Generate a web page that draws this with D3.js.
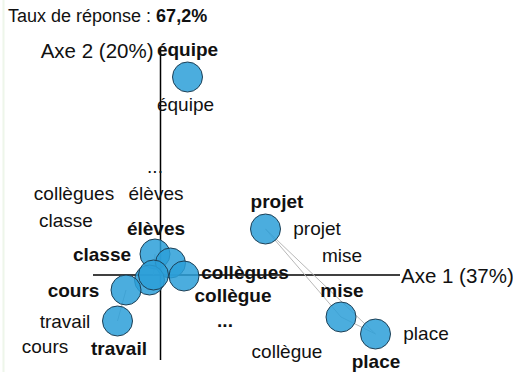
<!DOCTYPE html>
<html>
<head>
<meta charset="utf-8">
<script src="https://cdn.jsdelivr.net/npm/d3@7"></script>
<style>
  body { margin: 0; background: #fff; }
  svg { display: block; font-family: "Liberation Sans", Arial, sans-serif; }
</style>
</head>
<body>
<div id="chart"></div>
<script>
// mots (points actifs)
var words = ['équipe', 'projet', 'mise', 'place', 'élèves', 'collègue', 'collègues', 'classe', '...', 'cours', 'travail'];
var axis1 = [0.54, 2.10, 3.61, 4.30, -0.11, 0.20, 0.47, -0.22, -0.14, -0.69, -0.86];
var axis2 = [3.96, 0.92, -0.84, -1.18, 0.42, 0.24, -0.02, -0.10, 0.0, -0.30, -0.92];
// position des etiquettes en gras
var labelX = [0.54, 2.33, 3.63, 4.31, -0.09, 1.45, 1.69, -1.17, 1.29, -1.74, -0.83];
var labelY = [4.38, 1.34, -0.44, -1.86, 0.80, -0.54, -0.08, 0.28, -1.04, -0.44, -1.60];

// mots supplementaires (texte simple)
var suppWords = ['équipe', '...', 'collègues', 'élèves', 'classe', 'projet', 'mise', 'travail', 'cours', 'place', 'collègue'];
var suppX = [0.50, -0.11, -1.73, -0.09, -1.89, 3.13, 3.63, -1.91, -2.31, 5.31, 2.53];
var suppY = [3.28, 2.04, 1.50, 1.50, 0.96, 0.80, 0.26, -1.06, -1.56, -1.30, -1.66];

// liens entre mots (indices)
var links = [[1, 2], [2, 3], [1, 3], [9, 10], [4, 8]];

var rate = '67,2%';
var axisLabels = ['Axe 1 (37%)', 'Axe 2 (20%)'];

var W = 513, H = 374;

var svg = d3.select('#chart').append('svg')
    .attr('width', W)
    .attr('height', H);

// fine bordure a gauche
svg.append('line')
    .attr('x1', 3.5).attr('x2', 3.5)
    .attr('y1', 0).attr('y2', 372)
    .attr('stroke', '#eef6ea')
    .attr('stroke-width', 2);

var x = d3.scaleLinear().domain([-1.35, 4.79]).range([93, 400]);
var y = d3.scaleLinear().domain([4.54, -1.7]).range([48, 360]);

//------------- titre
var title = svg.append('text')
    .attr('x', 8)
    .attr('y', 22)
    .style('font-size', '18px')
    .attr('fill', '#111')
    .text('Taux de réponse : ');
title.append('tspan')
    .style('font-weight', 'bold')
    .text(rate);

//------------- axes
svg.append('line')
    .attr('x1', x(x.domain()[0])).attr('x2', x(x.domain()[1]))
    .attr('y1', y(0)).attr('y2', y(0))
    .attr('stroke', '#000')
    .attr('stroke-width', 1.5);

svg.append('line')
    .attr('x1', x(0)).attr('x2', x(0))
    .attr('y1', y(y.domain()[0])).attr('y2', y(y.domain()[1]))
    .attr('stroke', '#000')
    .attr('stroke-width', 1.5);

svg.append('text')
    .attr('x', x(x.domain()[1]) + 1)
    .attr('y', y(0) + 8)
    .style('font-size', '20.5px')
    .attr('fill', '#111')
    .text(axisLabels[0]);

svg.append('text')
    .attr('x', x(0) - 7)
    .attr('y', y(y.domain()[0]) + 10)
    .attr('text-anchor', 'end')
    .style('font-size', '20.5px')
    .attr('fill', '#111')
    .text(axisLabels[1]);

//------------- liens
svg.selectAll('.link')
    .data(links)
    .enter()
    .append('line')
    .attr('class', 'link')
    .attr('x1', d => x(axis1[d[0]]))
    .attr('y1', d => y(axis2[d[0]]))
    .attr('x2', d => x(axis1[d[1]]))
    .attr('y2', d => y(axis2[d[1]]))
    .attr('stroke', '#b8b8b8')
    .attr('stroke-width', 1);

//------------- etiquettes supplementaires
svg.selectAll('.supp')
    .data(suppWords)
    .enter()
    .append('text')
    .attr('class', 'supp')
    .attr('x', (_, i) => x(suppX[i]))
    .attr('y', (_, i) => y(suppY[i]))
    .attr('text-anchor', 'middle')
    .style('font-size', '19px')
    .attr('fill', '#111')
    .text(d => d);

//------------- points
svg.selectAll('.pt')
    .data(words)
    .enter()
    .append('circle')
    .attr('class', 'pt')
    .attr('cx', (_, i) => x(axis1[i]))
    .attr('cy', (_, i) => y(axis2[i]))
    .attr('r', 15)
    .attr('fill', '#2b9fd8')
    .attr('fill-opacity', 0.85)
    .attr('stroke', '#1d3f55')
    .attr('stroke-width', 1);

//------------- etiquettes en gras
svg.selectAll('.lbl')
    .data(words)
    .enter()
    .append('text')
    .attr('class', 'lbl')
    .attr('x', (_, i) => x(labelX[i]))
    .attr('y', (_, i) => y(labelY[i]))
    .attr('text-anchor', 'middle')
    .style('font-size', '19px')
    .style('font-weight', 'bold')
    .attr('fill', '#111')
    .text(d => d);
</script>
</body>
</html>
